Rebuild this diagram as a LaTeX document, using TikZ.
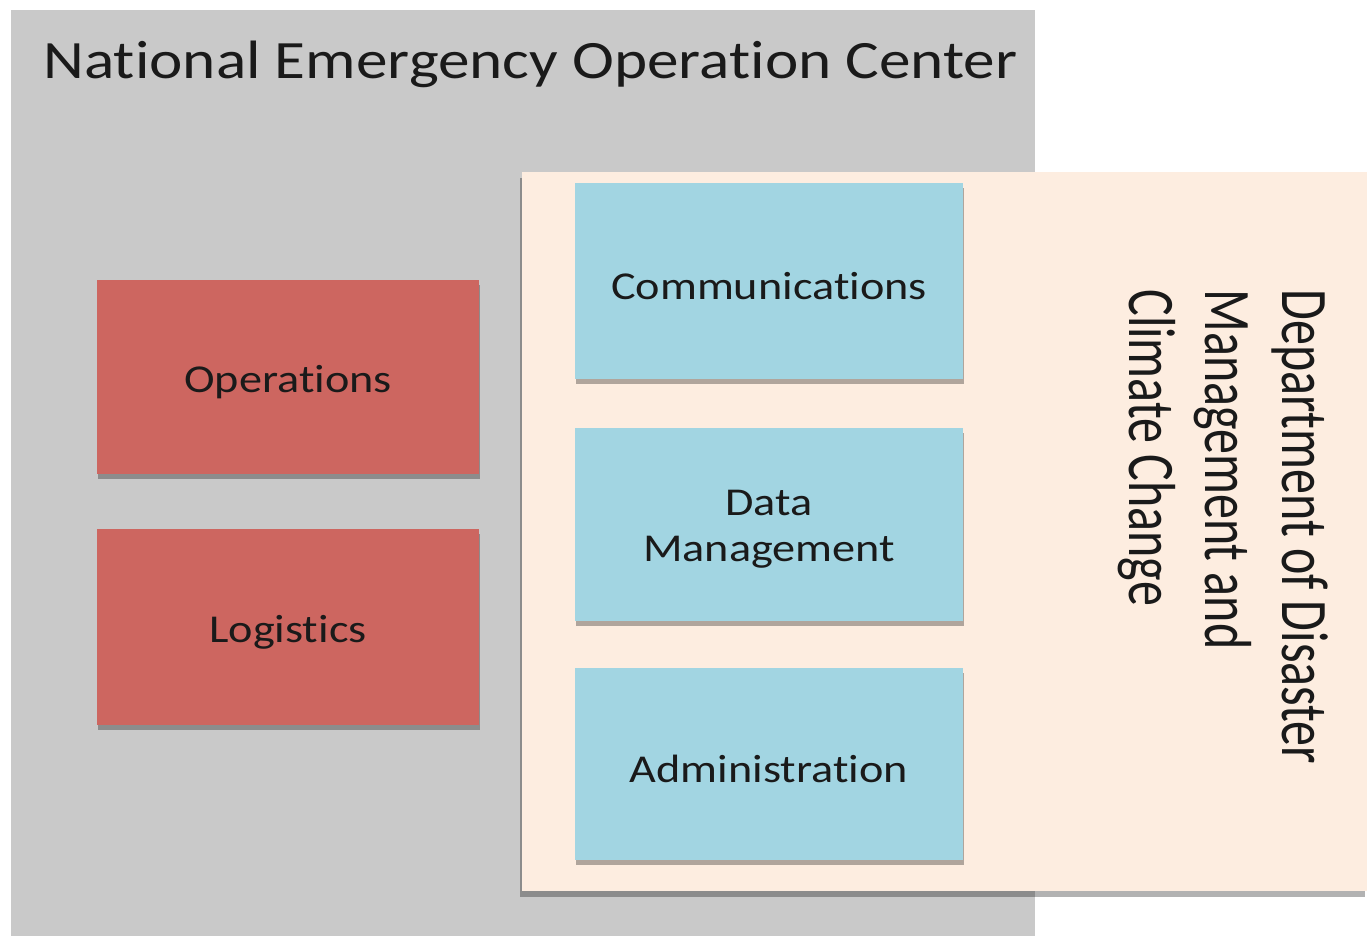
\documentclass[tikz,border=0pt]{standalone}
\usepackage{fontspec}
\usepackage{graphicx}
\setmainfont[Ligatures=NoCommon]{Carlito}
\newfontfamily\widefont[FakeStretch=1.17, Ligatures=NoCommon]{Carlito}
\usetikzlibrary{shadows}
\definecolor{nocgrey}{HTML}{C9C9C9}
\definecolor{peach}{HTML}{FDEDE0}
\definecolor{opred}{HTML}{CD6660}
\definecolor{lblue}{HTML}{A2D5E2}
\definecolor{txt}{HTML}{1A1A1A}
\newcommand{\lowtext}[1]{\raisebox{-2.5pt}[\height][\depth]{#1}}
\tikzset{
  softshadow/.style={drop shadow={shadow xshift=0.5pt, shadow yshift=-2.5pt, opacity=0.3, fill=black}},
  redbox/.style={rectangle, fill=opred, draw=none, minimum width=191pt, minimum height=97pt, inner sep=0pt, softshadow, text=txt, font=\widefont\fontsize{19.75}{23}\selectfont},
  bluebox/.style={rectangle, fill=lblue, draw=none, minimum width=194pt, minimum height=97pt, inner sep=0pt, softshadow, text=txt, font=\widefont\fontsize{19.75}{23}\selectfont},
}
\begin{document}
\begin{tikzpicture}[x=0.5pt, y=-0.5pt]
\useasboundingbox (0,0) rectangle (1367,936);
\fill[white] (0,0) rectangle (1367,936);
% outer grey panel
\fill[nocgrey] (11,10) rectangle (1035,936);
\node[anchor=base west, inner sep=0pt, text=txt, font=\widefont\fontsize{27}{30}\selectfont] (title) at (43,79) {National Emergency Operation Center};
% peach panel
\fill[peach, drop shadow={shadow xshift=-1pt, shadow yshift=-3pt, opacity=0.3, fill=black}] (522,172) rectangle (1367,891);
\node[anchor=north east, inner sep=0pt, text=txt, font=\fontsize{25}{28.7}\selectfont] (dept) at (1336,289)
  {\rotatebox{-90}{\scalebox{1}[1.33]{\begin{tabular}{@{}l@{}}Department of Disaster\\Management and\\Climate Change\end{tabular}}}};
% red boxes
\node[redbox, minimum height=97pt] (ops) at (288,377) {\lowtext{Operations}};
\node[redbox, minimum height=98pt] (log) at (288,627) {\lowtext{Logistics}};
% blue boxes
\node[bluebox, minimum height=98pt] (comm) at (769,281) {\lowtext{Communications}};
\node[bluebox, minimum height=96.5pt] (data) at (769,524.5) {\lowtext{\begin{tabular}{@{}c@{}}Data\\Management\end{tabular}}};
\node[bluebox, minimum height=96pt] (admin) at (769,764) {\lowtext{Administration}};
\end{tikzpicture}
\end{document}
